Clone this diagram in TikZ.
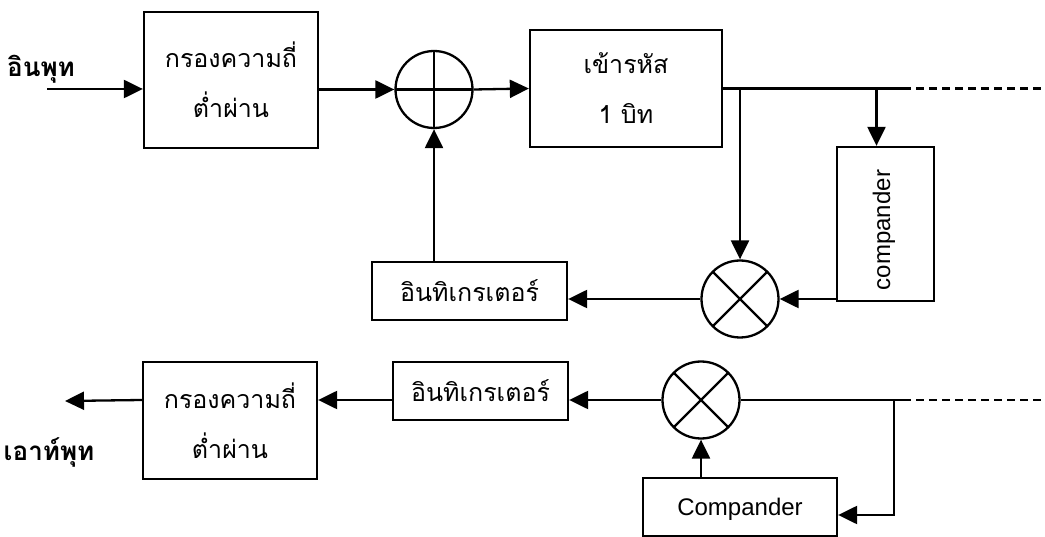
\documentclass[tikz,border=0pt]{standalone}
\usepackage{fontspec}
\setmainfont{Liberation Sans}
\newfontfamily\thaifont[Script=Thai]{Loma}
\usetikzlibrary{arrows.meta}

\begin{document}
\begin{tikzpicture}[x=1pt, y=-1pt, line width=2.3pt, >={Triangle[length=19pt,width=18pt]},
    block/.style={draw, align=center, inner sep=0pt, font=\thaifont\fontsize{25}{50}\selectfont},
    mixer/.style={draw, circle, minimum size=77pt, inner sep=0pt},
    adder/.style={mixer, path picture={
        \draw (path picture bounding box.north) -- (path picture bounding box.south);
        \draw (path picture bounding box.west) -- (path picture bounding box.east);}},
    multiplier/.style={mixer, path picture={
        \draw (path picture bounding box.north west) -- (path picture bounding box.south east);
        \draw (path picture bounding box.south west) -- (path picture bounding box.north east);}},
    signal/.style={font=\thaifont\bfseries\fontsize{26}{30}\selectfont}]

    \useasboundingbox (0,0) rectangle (1045,537);

    % encoder side
    \node [block, minimum width=174pt, minimum height=136pt] (lpf_in) at (231,80) {กรองความถี่\\ต่ำผ่าน};
    \node [adder] (sum) at (434,89.5) {};
    \node [block, minimum width=192pt, minimum height=117pt] (coder) at (626,88.5) {เข้ารหัส\\1 บิท};
    \node [block, minimum width=97pt, minimum height=154pt] (comp_up) at (885.5,224) {};
    \node [rotate=90, font=\fontsize{24}{28}\selectfont] (comp_up_text) at (884,230) {compander};
    \node [multiplier] (mult_up) at (740,299) {};
    \node [block, minimum width=195pt, minimum height=58pt] (integ_up) at (469.5,291) {อินทิเกรเตอร์};

    % decoder side
    \node [multiplier] (mult_down) at (701,400) {};
    \node [block, minimum width=175pt, minimum height=58pt] (integ_down) at (480.5,391) {อินทิเกรเตอร์};
    \node [block, minimum width=174pt, minimum height=117pt] (lpf_out) at (230,420.5) {กรองความถี่\\ต่ำผ่าน};
    \node [block, minimum width=194pt, minimum height=58pt, text depth=-6pt, font=\fontsize{24}{28}\selectfont] (comp_down) at (740,507) {Compander};

    \node [signal] (in_label) at (41,69) {อินพุท};
    \node [signal] (out_label) at (49,452) {เอาท์พุท};

    \coordinate (in_start) at (47,89);
    \coordinate (dash_up) at (903,88.5);
    \coordinate (end_up) at (1045,88.5);
    \coordinate (comp_up_in) at ([xshift=-9pt]comp_up.north);
    \coordinate (out_tip) at (65,401);
    \coordinate (tap_down) at (894,400);
    \coordinate (dash_down) at (903,400);
    \coordinate (end_down) at (1045,400);
    \coordinate (comp_down_in) at ([yshift=-8pt]comp_down.east);

    \draw[->] (in_start) -- (in_start -| lpf_in.west);
    \draw[->] (lpf_in.east |- sum.west) -- (sum.west);
    \draw[->] (sum.east) -- (coder.west);
    \draw (coder.east) -- (dash_up);
    \draw[dashed, dash pattern=on 8pt off 5pt] (dash_up) -- (end_up);
    \draw[->] (coder.east -| mult_up.north) -- (mult_up.north);
    \draw[->] (comp_up_in |- coder.east) -- (comp_up_in);
    \draw[->] (comp_up.west |- mult_up.east) -- (mult_up.east);
    \draw[->] (mult_up.west) -- (mult_up.west -| integ_up.east);
    \draw[->] (sum.south |- integ_up.north) -- (sum.south);

    \draw[->] (mult_down.west) -- (mult_down.west -| integ_down.east);
    \draw[->] (integ_down.west |- mult_down.west) -- (lpf_out.east |- mult_down.west);
    \draw[->] (lpf_out.west |- mult_down.west) -- (out_tip);
    \draw (mult_down.east) -- (dash_down);
    \draw[dashed, dash pattern=on 8pt off 5pt] (dash_down) -- (end_down);
    \draw[->] (tap_down) |- (comp_down_in);
    \draw[->] (mult_down.south |- comp_down.north) -- (mult_down.south);

\end{tikzpicture}
\end{document}
